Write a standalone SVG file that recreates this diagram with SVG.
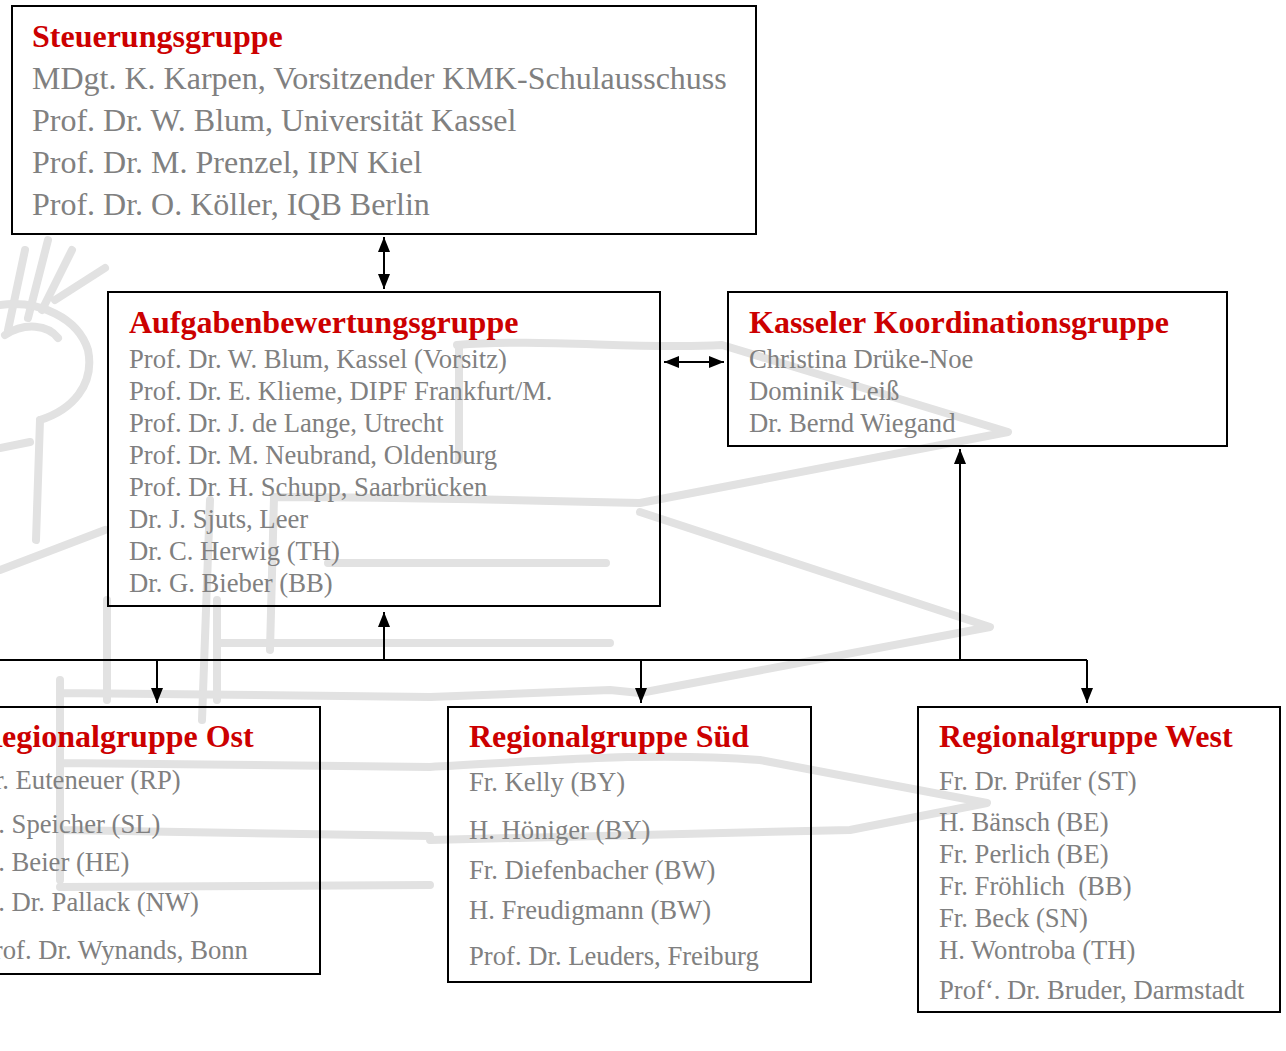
<svg xmlns="http://www.w3.org/2000/svg" width="1286" height="1051" viewBox="0 0 1286 1051">
<style>
.box{fill:none;stroke:#000;stroke-width:2}
.t{font-family:"Liberation Serif","Times New Roman",serif;font-weight:bold;font-size:32px;fill:#cc0000}
.l1{font-family:"Liberation Serif","Times New Roman",serif;font-size:32px;fill:#808080}
.l{font-family:"Liberation Serif","Times New Roman",serif;font-size:26.67px;fill:#808080}
.c{fill:none;stroke:#000;stroke-width:2}
.sk{fill:none;stroke:#e2e2e2;stroke-width:8;stroke-linecap:round;stroke-linejoin:round}
</style>
<defs>
<marker id="ah" markerUnits="userSpaceOnUse" markerWidth="16" markerHeight="12" refX="15" refY="6" orient="auto-start-reverse">
<path d="M0,0 L15,6 L0,12 Z" fill="#000"/>
</marker>
</defs>
<rect x="0" y="0" width="1286" height="1051" fill="#fff"/>
<g id="sketch">
<path class="sk" d="M8,330 L25,250 M28,318 L48,240 M42,310 L72,250 M55,300 L105,268"/>
<path class="sk" d="M0,305 C40,300 78,318 88,350 C95,385 72,410 40,420 M5,335 C25,322 48,325 58,338"/>
<path class="sk" d="M40,420 L36,540 M0,448 L30,442 M0,570 L105,530"/>
<path class="sk" d="M457,345 C540,338 640,350 722,345 L1008,432 L640,503 C520,500 380,497 274,497 L270,650"/>
<path class="sk" d="M459,345 L459,460 M640,512 L990,627 L640,693 L610,690 L430,697"/>
<path class="sk" d="M328,563 L606,563 M210,500 L202,720 M107,600 L107,700 M217,600 L217,700 M217,643 L610,643"/>
<path class="sk" d="M60,693 L430,697 M60,680 L60,880 M60,763 L430,767 C560,760 650,752 760,760 L987,803 L850,830 L430,840 M60,830 L430,836 M60,887 L430,885"/>
</g>
<g id="connectors">
<line class="c" x1="384" y1="237" x2="384" y2="289" marker-start="url(#ah)" marker-end="url(#ah)"/>
<line class="c" x1="664" y1="362" x2="724" y2="362" marker-start="url(#ah)" marker-end="url(#ah)"/>
<path class="c" d="M0,660 L1087,660"/>
<line class="c" x1="384" y1="660" x2="384" y2="612" marker-end="url(#ah)"/>
<line class="c" x1="960" y1="660" x2="960" y2="449" marker-end="url(#ah)"/>
<line class="c" x1="157" y1="660" x2="157" y2="703" marker-end="url(#ah)"/>
<line class="c" x1="641" y1="660" x2="641" y2="703" marker-end="url(#ah)"/>
<line class="c" x1="1087" y1="660" x2="1087" y2="703" marker-end="url(#ah)"/>
</g>
<g id="steuerungsgruppe">
<rect class="box" x="12" y="6" width="744" height="228" fill="#fff"/>
<text class="t" x="32" y="47">Steuerungsgruppe</text>
<text class="l1" x="32" y="89">MDgt. K. Karpen, Vorsitzender KMK-Schulausschuss</text>
<text class="l1" x="32" y="131">Prof. Dr. W. Blum, Universität Kassel</text>
<text class="l1" x="32" y="173">Prof. Dr. M. Prenzel, IPN Kiel</text>
<text class="l1" x="32" y="215">Prof. Dr. O. Köller, IQB Berlin</text>
</g>
<g id="aufgabenbewertungsgruppe">
<rect class="box" x="108" y="292" width="552" height="314"/>
<text class="t" x="129" y="333">Aufgabenbewertungsgruppe</text>
<text class="l" x="129" y="368">Prof. Dr. W. Blum, Kassel (Vorsitz)</text>
<text class="l" x="129" y="400">Prof. Dr. E. Klieme, DIPF Frankfurt/M.</text>
<text class="l" x="129" y="432">Prof. Dr. J. de Lange, Utrecht</text>
<text class="l" x="129" y="464">Prof. Dr. M. Neubrand, Oldenburg</text>
<text class="l" x="129" y="496">Prof. Dr. H. Schupp, Saarbrücken</text>
<text class="l" x="129" y="528">Dr. J. Sjuts, Leer</text>
<text class="l" x="129" y="560">Dr. C. Herwig (TH)</text>
<text class="l" x="129" y="592">Dr. G. Bieber (BB)</text>
</g>
<g id="kasseler">
<rect class="box" x="728" y="292" width="499" height="154"/>
<text class="t" x="749" y="333">Kasseler Koordinationsgruppe</text>
<text class="l" x="749" y="368">Christina Drüke-Noe</text>
<text class="l" x="749" y="400">Dominik Leiß</text>
<text class="l" x="749" y="432">Dr. Bernd Wiegand</text>
</g>
<g id="ost">
<rect class="box" x="-42" y="707" width="362" height="267"/>
<text class="t" x="-21" y="747">Regionalgruppe Ost</text>
<text class="l" x="-20" y="789">Fr. Euteneuer (RP)</text>
<text class="l" x="-21" y="833">H. Speicher (SL)</text>
<text class="l" x="-21" y="871">H. Beier (HE)</text>
<text class="l" x="-21" y="911">H. Dr. Pallack (NW)</text>
<text class="l" x="-21" y="959">Prof. Dr. Wynands, Bonn</text>
</g>
<g id="sued">
<rect class="box" x="448" y="707" width="363" height="275"/>
<text class="t" x="469" y="747">Regionalgruppe Süd</text>
<text class="l" x="469" y="791">Fr. Kelly (BY)</text>
<text class="l" x="469" y="839">H. Höniger (BY)</text>
<text class="l" x="469" y="879">Fr. Diefenbacher (BW)</text>
<text class="l" x="469" y="919">H. Freudigmann (BW)</text>
<text class="l" x="469" y="965">Prof. Dr. Leuders, Freiburg</text>
</g>
<g id="west">
<rect class="box" x="918" y="707" width="362" height="305"/>
<text class="t" x="939" y="747">Regionalgruppe West</text>
<text class="l" x="939" y="790">Fr. Dr. Prüfer (ST)</text>
<text class="l" x="939" y="831">H. Bänsch (BE)</text>
<text class="l" x="939" y="863">Fr. Perlich (BE)</text>
<text class="l" x="939" y="895" xml:space="preserve">Fr. Fröhlich  (BB)</text>
<text class="l" x="939" y="927">Fr. Beck (SN)</text>
<text class="l" x="939" y="959">H. Wontroba (TH)</text>
<text class="l" x="939" y="999">Prof‘. Dr. Bruder, Darmstadt</text>
</g>
</svg>
